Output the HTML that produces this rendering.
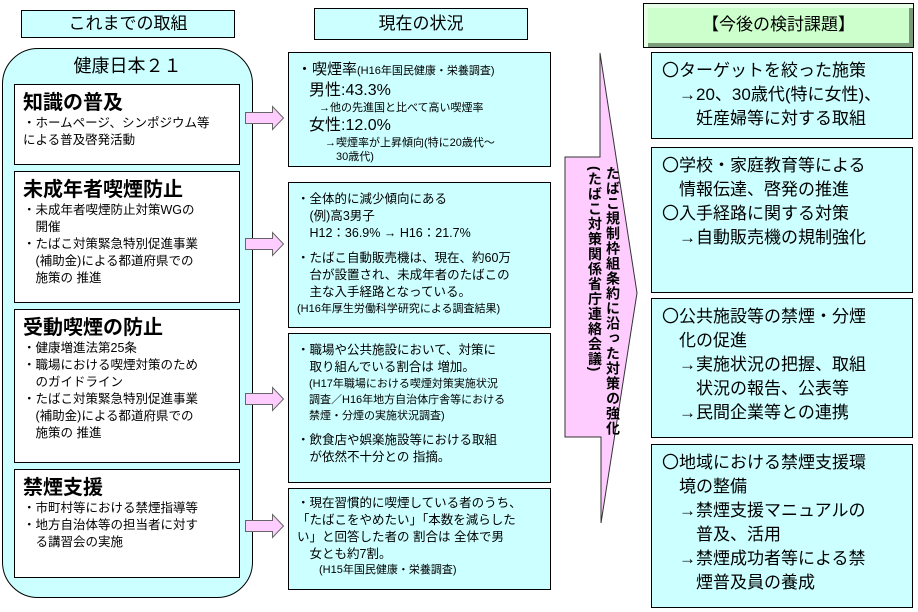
<!DOCTYPE html>
<html><head><meta charset="utf-8"><style>
body{margin:0;width:918px;height:612px;background:#fff;position:relative;overflow:hidden;font-family:"Liberation Sans","Noto Sans CJK JP",sans-serif;color:#000}
.a{position:absolute;box-sizing:border-box}
.bx{border:1px solid #000;background:#ccffff}
.w{background:#fff;border:1px solid #000}
.t{font-size:20px;font-weight:bold;line-height:24px;white-space:nowrap}
.s{font-size:12.5px;line-height:17px;white-space:nowrap}
.m{font-size:12.5px;line-height:17px;white-space:nowrap}
.r{font-size:17px;line-height:24px;white-space:nowrap}
</style></head><body>
<!-- left -->
<div class="a bx" style="left:21px;top:10px;width:214px;height:28px;font-size:17px;text-align:center;line-height:26px">これまでの取組</div>
<div class="a bx" style="left:2px;top:48px;width:251px;height:550px;border-radius:36px"></div>
<div class="a" style="left:2px;top:52px;width:251px;text-align:center;font-size:18px">健康日本２１</div>
<div class="a w" style="left:14px;top:84px;width:226px;height:81px;padding:6px 0 0 8px"><div class="t">知識の普及</div><div class="s">・ホームページ、シンポジウム等<br>による普及啓発活動</div></div>
<div class="a w" style="left:14px;top:171px;width:226px;height:132px;padding:6px 0 0 8px"><div class="t">未成年者喫煙防止</div><div class="s">・未成年者喫煙防止対策WGの<br>　開催<br>・たばこ対策緊急特別促進事業<br>　(補助金)による都道府県での<br>　施策の 推進</div></div>
<div class="a w" style="left:14px;top:309px;width:226px;height:154px;padding:6px 0 0 8px"><div class="t">受動喫煙の防止</div><div class="s">・健康増進法第25条<br>・職場における喫煙対策のため<br>　のガイドライン<br>・たばこ対策緊急特別促進事業<br>　(補助金)による都道府県での<br>　施策の 推進</div></div>
<div class="a w" style="left:14px;top:469px;width:226px;height:109px;padding:6px 0 0 8px"><div class="t">禁煙支援</div><div class="s">・市町村等における禁煙指導等<br>・地方自治体等の担当者に対す<br>　る講習会の実施</div></div>
<!-- arrows -->
<svg class="a" style="left:0;top:0" width="918" height="612">
<g fill="#ffccff" stroke="#666" stroke-width="1">
<polygon points="245.5,112.5 272.5,112.5 272.5,106.5 283.5,118 272.5,129.5 272.5,123.5 245.5,123.5"/>
<polygon points="245.5,238.5 272.5,238.5 272.5,232.5 283.5,244 272.5,255.5 272.5,249.5 245.5,249.5"/>
<polygon points="245.5,393.5 272.5,393.5 272.5,387.5 283.5,399 272.5,410.5 272.5,404.5 245.5,404.5"/>
<polygon points="245.5,520.5 272.5,520.5 272.5,514.5 283.5,526 272.5,537.5 272.5,531.5 245.5,531.5"/>
</g>
<polygon points="600,53 637,293 601,523 601,437 565,437 565,157 600,157" fill="#ffccff" stroke="#333" stroke-width="1"/>
</svg>
<div class="a" style="left:572px;top:166px;width:50px;writing-mode:vertical-rl;font-size:14px;font-weight:bold;line-height:18px;letter-spacing:1px">たばこ規制枠組条約に沿った対策の強化<br>(たばこ対策関係省庁連絡会議)</div>
<!-- middle -->
<div class="a bx" style="left:314px;top:8px;width:214px;height:32px;font-size:17px;text-align:center;line-height:30px">現在の状況</div>
<div class="a bx" style="left:288px;top:52px;width:263px;height:115px;padding:7px 0 0 8px"><div style="font-size:15px;line-height:20px;white-space:nowrap">・喫煙率<span style="font-size:11px">(H16年国民健康・栄養調査)</span></div><div style="font-size:16px;line-height:20px;padding-left:12px">男性:43.3%</div><div style="font-size:11px;line-height:15px;padding-left:22px">→他の先進国と比べて高い喫煙率</div><div style="font-size:16px;line-height:20px;padding-left:12px">女性:12.0%</div><div style="font-size:11px;line-height:14px;padding-left:28px">→喫煙率が上昇傾向(特に20歳代～<br>　30歳代)</div></div>
<div class="a bx" style="left:288px;top:182px;width:263px;height:146px;padding:8px 0 0 8px"><div class="m">・全体的に減少傾向にある<br>　(例)高3男子<br>　H12：36.9% → H16：21.7%</div><div class="m" style="margin-top:8px">・たばこ自動販売機は、現在、約60万<br>　台が設置され、未成年者のたばこの<br>　主な入手経路となっている。</div><div style="font-size:11px;line-height:16px">(H16年厚生労働科学研究による調査結果)</div></div>
<div class="a bx" style="left:288px;top:333px;width:263px;height:150px;padding:8px 0 0 8px"><div class="m">・職場や公共施設において、対策に<br>　取り組んでいる割合は 増加。</div><div style="font-size:11px;line-height:16px;padding-left:12px">(H17年職場における喫煙対策実施状況<br>調査／H16年地方自治体庁舎等における<br>禁煙・分煙の実施状況調査)</div><div class="m" style="margin-top:8px">・飲食店や娯楽施設等における取組<br>　が依然不十分との 指摘。</div></div>
<div class="a bx" style="left:288px;top:488px;width:263px;height:102px;padding:6px 0 0 8px"><div class="m">・現在習慣的に喫煙している者のうち、<br>「たばこをやめたい」「本数を減らした<br>い」と回答した者の 割合は 全体で男<br>　女とも約7割。</div><div style="font-size:11px;line-height:15px;padding-left:22px">(H15年国民健康・栄養調査)</div></div>
<!-- right -->
<div class="a" style="left:643px;top:3px;width:271px;height:45px;background:#ccffcc;border:1px solid #000;box-shadow:inset 4px 4px 0 #e6ffe6,inset -4px -4px 0 #7a9a7a;font-size:17px;text-align:center;line-height:42px">【今後の検討課題】</div>
<div class="a bx r" style="left:651px;top:52px;width:262px;height:87px;padding:6px 0 0 10px">〇ターゲットを絞った施策<br>　→20、30歳代(特に女性)、<br>　　妊産婦等に対する取組</div>
<div class="a bx r" style="left:651px;top:147px;width:262px;height:146px;padding:6px 0 0 10px">〇学校・家庭教育等による<br>　情報伝達、啓発の推進<br>〇入手経路に関する対策<br>　→自動販売機の規制強化</div>
<div class="a bx r" style="left:651px;top:298px;width:262px;height:140px;padding:6px 0 0 10px">〇公共施設等の禁煙・分煙<br>　化の促進<br>　→実施状況の把握、取組<br>　　状況の報告、公表等<br>　→民間企業等との連携</div>
<div class="a bx r" style="left:651px;top:444px;width:262px;height:164px;padding:6px 0 0 10px">〇地域における禁煙支援環<br>　境の整備<br>　→禁煙支援マニュアルの<br>　　普及、活用<br>　→禁煙成功者等による禁<br>　　煙普及員の養成</div>
</body></html>
